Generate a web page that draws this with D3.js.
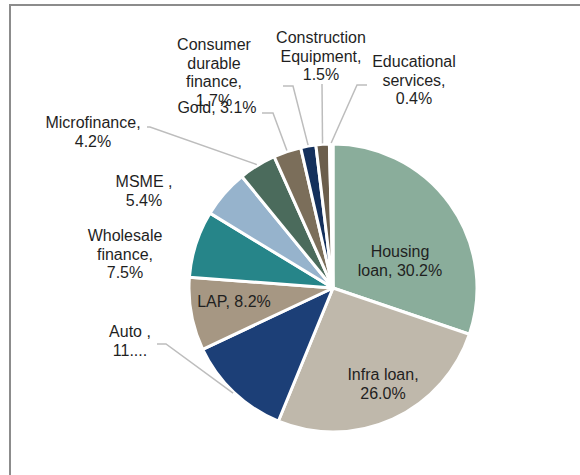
<!DOCTYPE html>
<html>
<head>
<meta charset="utf-8">
<script src="https://cdn.jsdelivr.net/npm/d3@7/dist/d3.min.js"></script>
<style>
  html, body { margin: 0; padding: 0; background: #fff; }
  svg { display: block; }
  text { font-family: "Liberation Sans", Arial, sans-serif; font-size: 16px; fill: #1f1f1f; }
</style>
</head>
<body>
<div id="chart"></div>
<script>
// Data (clockwise from 12 o'clock)
const categories = ["Housing loan", "Infra loan", "Auto", "LAP", "Wholesale finance", "MSME", "Microfinance", "Gold", "Consumer durable finance", "Construction Equipment", "Educational services"];
const values = [30.2, 26.0, 11.8, 8.2, 7.5, 5.4, 4.2, 3.1, 1.7, 1.5, 0.4];
const colors = ["#8aad9b", "#bfb8ab", "#1c3f77", "#a69783", "#268589", "#96b3cc", "#4b6b5c", "#7b6e5a", "#14305c", "#6b5e4c", "#ffffff"];
// Label lines as displayed
const labelLines = [
  ["Housing", "loan, 30.2%"],
  ["Infra loan,", "26.0%"],
  ["Auto ,", "11...."],
  ["LAP, 8.2%"],
  ["Wholesale", "finance,", "7.5%"],
  ["MSME ,", "5.4%"],
  ["Microfinance,", "4.2%"],
  ["Gold, 3.1%"],
  ["Consumer", "durable", "finance,", "1.7%"],
  ["Construction", "Equipment,", "1.5%"],
  ["Educational", "services,", "0.4%"]
];

const W = 580, H = 475;
const svg = d3.select("#chart").append("svg").attr("width", W).attr("height", H);

// frame
svg.append("line").attr("x1", 9).attr("x2", W).attr("y1", 5).attr("y2", 5)
  .attr("stroke", "#8c8c8c").attr("stroke-width", 2);
svg.append("line").attr("x1", 10).attr("x2", 10).attr("y1", 4).attr("y2", H)
  .attr("stroke", "#8c8c8c").attr("stroke-width", 2);

const cx = 333, cy = 288, R = 144;
const pie = d3.pie().sort(null).value(d => d)(values);
const arc = d3.arc().innerRadius(0).outerRadius(R);

const g = svg.append("g").attr("transform", `translate(${cx},${cy})`);
g.selectAll("path").data(pie).join("path")
  .attr("d", arc)
  .attr("fill", (d, i) => colors[i])
  .attr("stroke", "#fff")
  .attr("stroke-width", 3)
  .attr("stroke-linejoin", "round");

// label placements: [center x, first baseline y] (layout)
const labelPos = [
  [400, 257], [383, 380], [130, 337], [234, 307], [125, 241], [144, 187],
  [93, 128], [217, 113], [214, 50], [321, 43], [414, 67]
];
const lineH = 18.7;

// leader lines: label-side anchor points, ending at the slice's outer edge
const leaderStart = {
  2: [[157, 344], [166, 344]],
  6: [[147, 127], [150, 127]],
  7: [[262, 113], [273, 113]],
  8: [[283, 86], [293, 86]],
  9: [[322, 84]],
  10: [[367, 85], [357, 85]]
};
const outerPt = (d, rr) => {
  const a = (d.startAngle + d.endAngle) / 2;
  return [cx + rr * Math.sin(a), cy - rr * Math.cos(a)];
};
Object.keys(leaderStart).forEach(k => {
  const i = +k;
  const d = pie[i];
  const pts = leaderStart[k].slice();
  pts.push(outerPt(d, R + 1));
  svg.append("path")
    .attr("d", d3.line()(pts))
    .attr("fill", "none")
    .attr("stroke", "#bdbdbd")
    .attr("stroke-width", 1.5);
});

labelLines.forEach((lines, i) => {
  const [x, y] = labelPos[i];
  const t = svg.append("text").attr("text-anchor", "middle");
  lines.forEach((ln, j) => {
    t.append("tspan").attr("x", x).attr("y", y + j * lineH).text(ln);
  });
});
</script>
</body>
</html>
